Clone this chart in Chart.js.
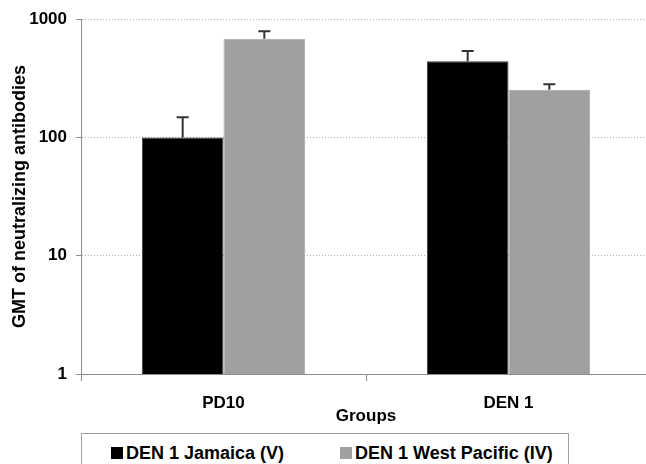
<!DOCTYPE html>
<html>
<head>
<meta charset="utf-8">
<script src="https://cdn.jsdelivr.net/npm/chart.js@4.4.1/dist/chart.umd.min.js"></script>
<style>
    body { margin: 0; background: #fff; overflow: hidden; width: 646px; height: 464px; }
    #wrap { position: relative; width: 646px; height: 464px; overflow: hidden; }
    canvas { position: absolute; left: 0; top: 0; }
    #legend {
        position: absolute; left: 81px; top: 433px; width: 488px; height: 44px;
        box-sizing: border-box; border: 1px solid #a0a0a0; padding: 9px 0 0 29px;
        font: bold 18px "Liberation Sans", Arial, sans-serif; line-height: 20px; color: #000;
        white-space: nowrap;
    }
    #legend span.item { display: inline-block; margin-right: 56px; }
    #legend span.box { display: inline-block; width: 12px; height: 12px; margin-right: 3px; vertical-align: baseline; }
</style>
</head>
<body>
<div id="wrap">
    <canvas id="chart" width="652" height="430"></canvas>
    <div id="legend"></div>
</div>
<script>
const groups = ['PD10', 'DEN 1']
const seriesNames = ['DEN 1 Jamaica (V)', 'DEN 1 West Pacific (IV)']
const jamaica = [100, 442]
const jamaicaErr = [48, 97]
const pacific = [684, 253]
const pacificErr = [105, 29]
const yTicks = [1, 10, 100, 1000]

const FONT = '"Liberation Sans", Arial, sans-serif'

const errorBars = {
    id: 'errorBars',
    afterDatasetsDraw(chart) {
        const ctx = chart.ctx
        const y = chart.scales.y
        chart.data.datasets.forEach((ds, i) => {
            const meta = chart.getDatasetMeta(i)
            meta.data.forEach((bar, j) => {
                const top = y.getPixelForValue(ds.data[j] + ds.errors[j])
                ctx.save()
                ctx.strokeStyle = '#333'
                ctx.lineWidth = 2
                ctx.beginPath()
                ctx.moveTo(bar.x, bar.y)
                ctx.lineTo(bar.x, top)
                ctx.moveTo(bar.x - 6, top)
                ctx.lineTo(bar.x + 6, top)
                ctx.stroke()
                ctx.restore()
            })
        })
    }
}

function buildLegend(chart) {
    const legend = document.getElementById('legend')
    chart.data.datasets.forEach((ds) => {
        const item = document.createElement('span')
        item.className = 'item'
        const box = document.createElement('span')
        box.className = 'box'
        box.style.background = ds.backgroundColor
        item.appendChild(box)
        item.appendChild(document.createTextNode(ds.label))
        legend.appendChild(item)
    })
}

const chart = new Chart(document.getElementById('chart'), {
    type: 'bar',
    data: {
        labels: groups,
        datasets: [{
            label: seriesNames[0],
            data: jamaica,
            errors: jamaicaErr,
            backgroundColor: '#000000',
            borderColor: '#3a3a3a',
            borderWidth: 1
        }, {
            label: seriesNames[1],
            data: pacific,
            errors: pacificErr,
            backgroundColor: '#a0a0a0',
            borderColor: '#a8a8a8',
            borderWidth: 1
        }]
    },
    options: {
        responsive: false,
        animation: false,
        devicePixelRatio: 1,
        layout: { padding: { left: 0, top: 16, right: 1, bottom: 0 } },
        datasets: { bar: { categoryPercentage: 0.573, barPercentage: 1 } },
        plugins: {
            legend: { display: false },
            tooltip: { enabled: false }
        },
        scales: {
            x: {
                grid: { offset: true, drawOnChartArea: false, tickLength: 7, color: '#8c8c8c' },
                border: { color: '#8c8c8c' },
                ticks: { color: '#000', padding: 12, font: { family: FONT, size: 17, weight: 'bold' } },
                title: {
                    display: true, text: 'Groups', color: '#000',
                    font: { family: FONT, size: 17, weight: 'bold' },
                    padding: { top: 0, bottom: 3 }
                },
                afterFit: (s) => { s.height = 56 }
            },
            y: {
                type: 'logarithmic',
                min: 1,
                max: 1000,
                afterBuildTicks: (s) => { s.ticks = yTicks.map((v) => ({ value: v })) },
                grid: { color: '#b0b0b0', tickColor: '#8c8c8c', tickLength: 5, tickBorderDash: [] },
                border: { color: '#8c8c8c', dash: [1, 2] },
                ticks: {
                    color: '#000', padding: 9,
                    font: { family: FONT, size: 17, weight: 'bold' },
                    callback: (v) => String(v)
                },
                title: {
                    display: true, text: 'GMT of neutralizing antibodies', color: '#000',
                    font: { family: FONT, size: 18, weight: 'bold' },
                    padding: { top: 9, bottom: 0 }
                },
                afterFit: (s) => { s.width = 81 }
            }
        }
    },
    plugins: [errorBars]
})

buildLegend(chart)
</script>
</body>
</html>
